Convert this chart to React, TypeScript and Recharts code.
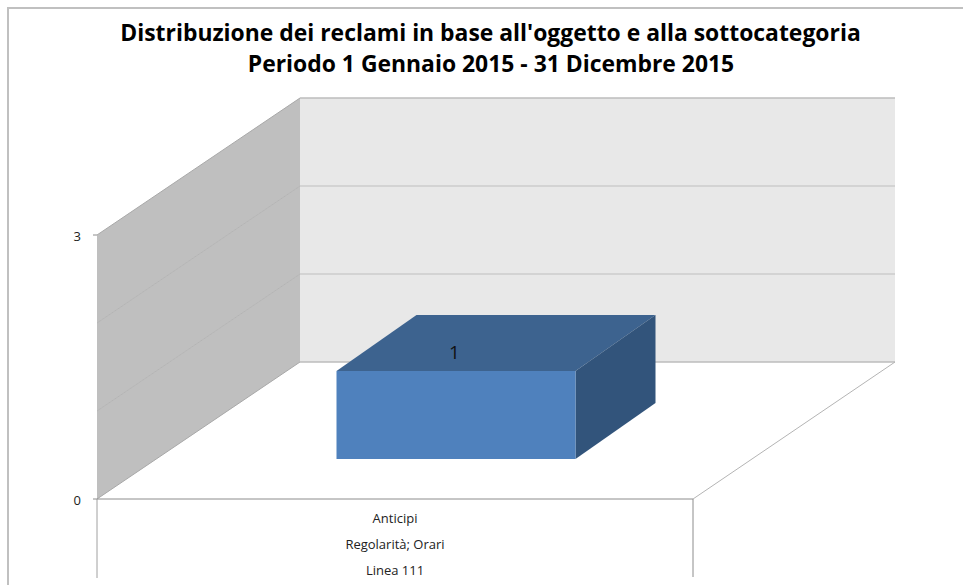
import React from "react";
import { BarChart, Bar, XAxis, YAxis, ReferenceArea, LabelList } from "recharts";

const titleLines = [
  "Distribuzione dei reclami in base all'oggetto e alla sottocategoria",
  "Periodo 1 Gennaio 2015 - 31 Dicembre 2015",
];
const categories = ["Anticipi"];
const subcategories = ["Regolarità; Orari"];
const groups = ["Linea 111"];
const values = [1];
const yTicks = [0, 3];
const bands = [0, 1, 2];

const rows = categories.map((c, i) => ({
  category: c,
  subcategory: subcategories[i],
  group: groups[i],
  value: values[i],
}));

const DX = 203;
const DY = 137;
const FONT = "'Open Sans', 'Noto Sans', sans-serif";

const Band = (p: any) => {
  const { x, y, width, height, first, last } = p;
  const b = y + height;
  return (
    <g>
      <polygon points={`${x},${y} ${x + DX},${y - DY} ${x + DX},${b - DY} ${x},${b}`} fill="#bfbfbf" />
      <rect x={x + DX} y={y - DY} width={width - 1} height={height} fill="#e8e8e8" />
      {last && (
        <g>
          <line x1={x} y1={y} x2={x + DX} y2={y - DY} stroke="#a8a8a8" strokeWidth={1} />
          <line x1={x + DX} y1={y - DY} x2={x + DX + width - 1} y2={y - DY} stroke="#bdbdbd" strokeWidth={1.4} />
        </g>
      )}
      {!first && (
        <g>
          <line x1={x} y1={b} x2={x + DX} y2={b - DY} stroke="#b4b4b4" strokeWidth={1} />
          <line x1={x + DX} y1={b - DY} x2={x + DX + width - 1} y2={b - DY} stroke="#cdcdcd" strokeWidth={1.4} />
        </g>
      )}
      {first && (
        <g fill="none">
          <line x1={x + DX} y1={b - DY} x2={x + DX + width - 1} y2={b - DY} stroke="#bdbdbd" strokeWidth={1.4} />
          <line x1={x} y1={b} x2={x + DX} y2={b - DY} stroke="#a8a8a8" strokeWidth={1} />
          <line x1={x + width} y1={b} x2={x + width + DX - 1} y2={b - DY} stroke="#b4b4b4" strokeWidth={1} />
          <line x1={x} y1={b} x2={x + width} y2={b} stroke="#8c8c8c" strokeWidth={1} />
          <line x1={x} y1={b} x2={x} y2={b + 79} stroke="#a0a0a0" strokeWidth={1} />
          <line x1={x + width} y1={b} x2={x + width} y2={b + 78} stroke="#8c8c8c" strokeWidth={1} />
        </g>
      )}
    </g>
  );
};

const SHIFT_X = 60.5;
const SHIFT_Y = 40;
const DEPTH_X = 80;
const DEPTH_Y = 56;

const Block = (p: any) => {
  const x = p.x + SHIFT_X;
  const y = p.y - SHIFT_Y;
  const w = p.width;
  const h = p.height;
  return (
    <g>
      <polygon
        points={`${x},${y} ${x + DEPTH_X},${y - DEPTH_Y} ${x + w + DEPTH_X},${y - DEPTH_Y} ${x + w},${y}`}
        fill="#3d638f"
      />
      <polygon
        points={`${x + w},${y} ${x + w + DEPTH_X},${y - DEPTH_Y} ${x + w + DEPTH_X},${y + h - DEPTH_Y} ${x + w},${y + h}`}
        fill="#32547b"
      />
      <rect x={x} y={y} width={w} height={h} fill="#4f81bd" />
    </g>
  );
};

const ValueLabel = (p: any) => (
  <text
    x={p.x + p.width / 2 + SHIFT_X - 1.5}
    y={p.y - SHIFT_Y - 19}
    textAnchor="middle"
    dominantBaseline="central"
    fontFamily={FONT}
    fontSize={19}
    fill="#111"
  >
    {p.value}
  </text>
);

const CategoryTick = (p: any) => {
  const row = rows[p.index ?? 0];
  return (
    <g fontFamily={FONT} fontSize={13} fill="#222" textAnchor="middle">
      <text x={p.x} y={p.y + 10.5} dominantBaseline="central">{row.category}</text>
      <text x={p.x} y={p.y + 36.5} dominantBaseline="central">{row.subcategory}</text>
      <text x={p.x} y={p.y + 62.5} dominantBaseline="central">{row.group}</text>
    </g>
  );
};

export default function App() {
  return (
    <div style={{ position: "absolute", left: 0, top: 0, width: 963, height: 585, background: "#fff", overflow: "hidden" }}>
      <div style={{ position: "absolute", left: 7, top: 7, right: 0, bottom: 0, borderLeft: "2px solid #c0c0c0", borderTop: "2px solid #c0c0c0" }} />
      <svg width={963} height={80} style={{ position: "absolute", left: 0, top: 0 }}>
        <g fontFamily={FONT} fontSize={22.9} fontWeight={700} fill="#000" textAnchor="middle">
          <text x={490.5} y={41}>{titleLines[0]}</text>
          <text x={491} y={72}>{titleLines[1]}</text>
        </g>
      </svg>
      <div style={{ position: "absolute", left: 0, top: 0 }}>
        <BarChart
          width={963}
          height={585}
          data={rows}
          margin={{ top: 235, right: 270, bottom: 0, left: 0 }}
          barSize={239}
          style={{ overflow: "visible" }}
        >
          {bands.map((b) => (
            <ReferenceArea
              key={b}
              y1={b}
              y2={b + 1}
              ifOverflow="visible"
              shape={(s: any) => <Band {...s} first={b === 0} last={b === bands.length - 1} />}
            />
          ))}
          <XAxis dataKey="category" axisLine={false} tickLine={false} tick={<CategoryTick />} height={86} interval={0} />
          <YAxis
            domain={[0, 3]}
            ticks={yTicks}
            width={97}
            axisLine={false}
            tickLine={{ stroke: "#8c8c8c" }}
            tickSize={4}
            tickMargin={12}
            tick={{ fontFamily: FONT, fontSize: 13, fill: "#222", dy: 1.5 }}
          />
          <Bar dataKey="value" isAnimationActive={false} shape={<Block />}>
            <LabelList dataKey="value" content={<ValueLabel />} />
          </Bar>
        </BarChart>
      </div>
    </div>
  );
}
